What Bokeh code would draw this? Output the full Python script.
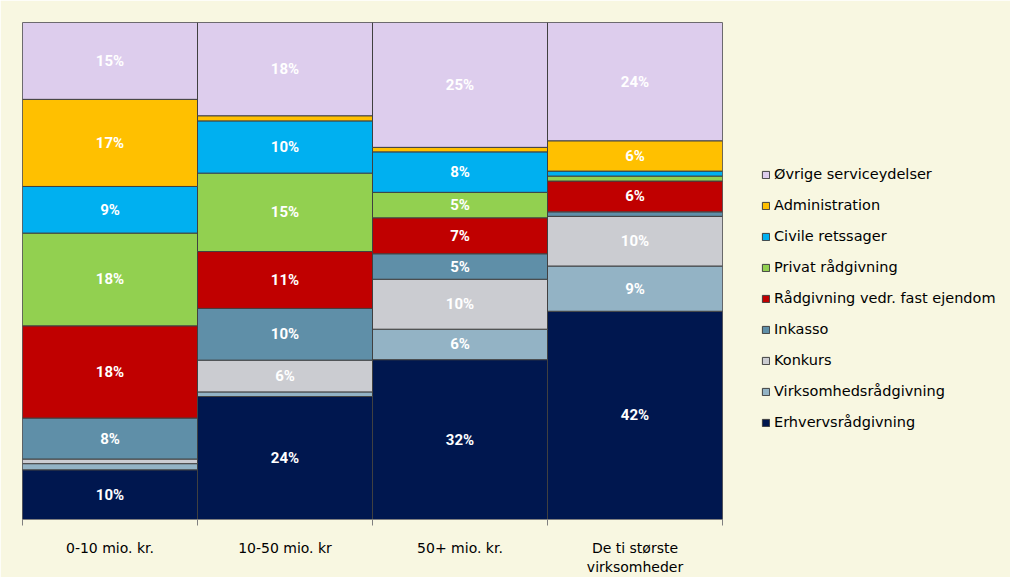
from bokeh.plotting import figure
from bokeh.models import ColumnDataSource, Legend, LegendItem, FixedTicker, Range1d
from bokeh.core.properties import value
from bokeh.embed import file_html
from bokeh.resources import INLINE

# ---- data ----
categories = ["0-10 mio. kr.", "10-50 mio. kr", "50+ mio. kr.", "De ti største\nvirksomheder"]
series_names = ["Erhvervsrådgivning", "Virksomhedsrådgivning", "Konkurs", "Inkasso",
                "Rådgivning vedr. fast ejendom", "Privat rådgivning", "Civile retssager",
                "Administration", "Øvrige serviceydelser"]
erhverv = [9.7, 24.0, 32.0, 41.9]
virksomhed = [1.2, 0.9, 6.1, 9.1]
konkurs = [0.9, 6.2, 10.0, 10.0]
inkasso = [8.0, 10.1, 5.1, 0.9]
fast_ejendom = [18.0, 11.1, 7.2, 6.2]
privat = [18.1, 15.3, 5.1, 1.0]
civile = [9.1, 10.2, 8.1, 1.0]
administration = [17.0, 1.0, 0.9, 6.1]
oevrige = [15.0, 18.2, 25.0, 23.8]
colors = ["#00174F", "#93B3C5", "#CBCCD1", "#5F8FA8", "#C00000",
          "#92D050", "#00B0F0", "#FFC000", "#DDCDED"]

raw = [erhverv, virksomhed, konkurs, inkasso, fast_ejendom, privat, civile, administration, oevrige]
keys = ["s%d" % i for i in range(len(raw))]
xs = [i + 0.5 for i in range(len(categories))]
totals = [sum(r[j] for r in raw) for j in range(len(categories))]

data = {"x": xs}
for k, r in zip(keys, raw):
    data[k] = [v / t * 100 for v, t in zip(r, totals)]
source = ColumnDataSource(data)

p = figure(frame_width=700, frame_height=497, output_backend="svg", toolbar_location=None,
           x_range=Range1d(0, 4), y_range=Range1d(0, 100),
           min_border_left=22, min_border_right=0, min_border_top=22, min_border_bottom=51)
p.border_fill_color = "#F8F7E1"
p.background_fill_color = "#FFFFFF"
p.outline_line_color = "#808080"
p.grid.visible = False
p.yaxis.visible = False

renderers = p.vbar_stack(keys, x="x", width=1.0, source=source, color=colors,
                         line_color="#404040", line_width=1)

# labels
lx, ly, lt = [], [], []
for j in range(len(categories)):
    cum = 0.0
    for k, r in zip(keys, raw):
        h = data[k][j]
        if r[j] >= 3:
            lx.append(xs[j])
            ly.append(cum + h / 2)
            lt.append("%d%%" % round(r[j]))
        cum += h
p.text(x=lx, y=ly, text=lt, text_color="white", text_font=value("Roboto"),
       text_font_style="bold", text_font_size="15px", text_align="center",
       text_baseline="middle")

ax = p.xaxis[0]
ax.ticker = FixedTicker(ticks=xs, minor_ticks=[0, 1, 2, 3, 4])
ax.major_label_overrides = {x: c for x, c in zip(xs, categories)}
ax.major_tick_line_color = None
ax.minor_tick_line_color = "#808080"
ax.minor_tick_out = 6
ax.minor_tick_in = 0
ax.axis_line_color = "#808080"
ax.major_label_text_font = "DejaVu Sans"
ax.major_label_text_font_size = "14px"
ax.major_label_text_color = "#000000"
ax.major_label_standoff = 14

items = [LegendItem(label=n, renderers=[r]) for n, r in zip(series_names, renderers)][::-1]
legend = Legend(items=items, location=(39, 87), orientation="vertical",
                glyph_width=9, glyph_height=9, label_height=20, spacing=11,
                label_standoff=4, padding=0, margin=0,
                label_text_font="DejaVu Sans", label_text_font_size="14.5px",
                label_text_color="#000000",
                background_fill_alpha=0, border_line_color=None)
p.add_layout(legend, "right")

open("out.html", "w").write(file_html(p, INLINE))
